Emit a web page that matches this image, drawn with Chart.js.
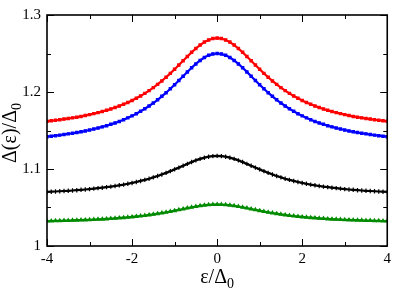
<!DOCTYPE html>
<html>
<head>
<meta charset="utf-8">
<script src="https://cdn.jsdelivr.net/npm/chart.js@4/dist/chart.umd.min.js"></script>
<style>
html,body{margin:0;padding:0;background:#fff;}
#wrap{width:395px;height:289px;position:relative;}
</style>
</head>
<body>
<div id="wrap"><canvas id="c" width="395" height="289"></canvas></div>
<script>
const eps = [-4,-3.9,-3.8,-3.7,-3.6,-3.5,-3.4,-3.3,-3.2,-3.1,-3,-2.9,-2.8,-2.7,-2.6,-2.5,-2.4,-2.3,-2.2,-2.1,-2,-1.9,-1.8,-1.7,-1.6,-1.5,-1.4,-1.3,-1.2,-1.1,-1,-0.9,-0.8,-0.7,-0.6,-0.5,-0.4,-0.3,-0.2,-0.1,0,0.1,0.2,0.3,0.4,0.5,0.6,0.7,0.8,0.9,1,1.1,1.2,1.3,1.4,1.5,1.6,1.7,1.8,1.9,2,2.1,2.2,2.3,2.4,2.5,2.6,2.7,2.8,2.9,3,3.1,3.2,3.3,3.4,3.5,3.6,3.7,3.8,3.9,4];

const redSeries = [1.1620,1.1626,1.1633,1.1640,1.1648,1.1656,1.1664,1.1673,1.1683,1.1694,1.1706,1.1719,1.1732,1.1747,1.1762,1.1780,1.1798,1.1818,1.1840,1.1864,1.1890,1.1918,1.1949,1.1982,1.2018,1.2057,1.2099,1.2144,1.2191,1.2242,1.2295,1.2350,1.2405,1.2461,1.2515,1.2565,1.2610,1.2648,1.2676,1.2694,
1.2700,
1.2694,1.2676,1.2648,1.2610,1.2565,1.2515,1.2461,1.2405,1.2350,1.2295,1.2242,1.2191,1.2144,1.2099,1.2057,1.2018,1.1982,1.1949,1.1918,1.1890,1.1864,1.1840,1.1818,1.1798,1.1780,1.1762,1.1747,1.1732,1.1719,1.1706,1.1694,1.1683,1.1673,1.1664,1.1656,1.1648,1.1640,1.1633,1.1626,1.1620];

const blueSeries = [1.1420,1.1426,1.1433,1.1440,1.1448,1.1456,1.1464,1.1473,1.1483,1.1494,1.1506,1.1519,1.1532,1.1547,1.1562,1.1580,1.1598,1.1618,1.1640,1.1664,1.1690,1.1718,1.1749,1.1782,1.1818,1.1857,1.1899,1.1944,1.1991,1.2042,1.2095,1.2150,1.2205,1.2261,1.2315,1.2365,1.2410,1.2448,1.2476,1.2494,
1.2500,
1.2494,1.2476,1.2448,1.2410,1.2365,1.2315,1.2261,1.2205,1.2150,1.2095,1.2042,1.1991,1.1944,1.1899,1.1857,1.1818,1.1782,1.1749,1.1718,1.1690,1.1664,1.1640,1.1618,1.1598,1.1580,1.1562,1.1547,1.1532,1.1519,1.1506,1.1494,1.1483,1.1473,1.1464,1.1456,1.1448,1.1440,1.1433,1.1426,1.1420];

const blackSeries = [1.0702,1.0705,1.0708,1.0711,1.0714,1.0717,1.0721,1.0725,1.0730,1.0734,1.0739,1.0745,1.0751,1.0757,1.0764,1.0771,1.0779,1.0788,1.0797,1.0808,1.0819,1.0831,1.0845,1.0859,1.0874,1.0891,1.0909,1.0929,1.0950,1.0972,1.0995,1.1018,1.1042,1.1066,1.1090,1.1112,1.1131,1.1147,1.1160,1.1167,
1.1170,
1.1167,1.1160,1.1147,1.1131,1.1112,1.1090,1.1066,1.1042,1.1018,1.0995,1.0972,1.0950,1.0929,1.0909,1.0891,1.0874,1.0859,1.0845,1.0831,1.0819,1.0808,1.0797,1.0788,1.0779,1.0771,1.0764,1.0757,1.0751,1.0745,1.0739,1.0734,1.0730,1.0725,1.0721,1.0717,1.0714,1.0711,1.0708,1.0705,1.0702];

const greenSeries = [1.0324,1.0325,1.0327,1.0328,1.0330,1.0331,1.0333,1.0335,1.0337,1.0339,1.0341,1.0344,1.0346,1.0349,1.0352,1.0356,1.0360,1.0364,1.0368,1.0373,1.0378,1.0384,1.0390,1.0396,1.0404,1.0411,1.0420,1.0429,1.0438,1.0448,1.0459,1.0470,1.0481,1.0492,1.0503,1.0513,1.0522,1.0530,1.0535,1.0539,
1.0540,
1.0539,1.0535,1.0530,1.0522,1.0513,1.0503,1.0492,1.0481,1.0470,1.0459,1.0448,1.0438,1.0429,1.0420,1.0411,1.0404,1.0396,1.0390,1.0384,1.0378,1.0373,1.0368,1.0364,1.0360,1.0356,1.0352,1.0349,1.0346,1.0344,1.0341,1.0339,1.0337,1.0335,1.0333,1.0331,1.0330,1.0328,1.0327,1.0325,1.0324];

const xMajorTicks = [-4,-2,0,2,4];
const xMinorTicks = [-3,-1,1,3];
const yMajorTicks = [1,1.1,1.2,1.3];
const yMinorTicks = [1.05,1.15,1.25];
const xTitleMain = 'ε/Δ';
const yTitleMain = 'Δ(ε)/Δ';
const titleSub = '0';

const SERIF = '"Liberation Serif", "Times New Roman", serif';

function pts(arr){ return eps.map((x,i)=>({x:x, y:arr[i]})); }
function ds(label, arr, color, style, r){
  return {label, data: pts(arr), borderColor: color, backgroundColor: color,
    borderWidth: 2.2, pointRadius: r, pointStyle: style, pointBorderWidth: 1.2,
    pointBackgroundColor: color, pointBorderColor: color, tension: 0, fill:false};
}

const framePlugin = {
  id: 'frameTicks',
  afterDatasetsDraw(chart){
    const ctx = chart.ctx, a = chart.chartArea;
    const xs = chart.scales.x, ys = chart.scales.y;
    ctx.save();
    ctx.strokeStyle = '#000';
    ctx.lineWidth = 1;
    const tick = (x1,y1,x2,y2)=>{ctx.beginPath();ctx.moveTo(x1,y1);ctx.lineTo(x2,y2);ctx.stroke();};
    xMajorTicks.forEach(v=>{const p=Math.round(xs.getPixelForValue(v))+0.5; tick(p,a.bottom,p,a.bottom-7); tick(p,a.top,p,a.top+7);});
    xMinorTicks.forEach(v=>{const p=Math.round(xs.getPixelForValue(v))+0.5; tick(p,a.bottom,p,a.bottom-4); tick(p,a.top,p,a.top+4);});
    yMajorTicks.forEach(v=>{const p=Math.round(ys.getPixelForValue(v))+0.5; tick(a.left,p,a.left+7,p); tick(a.right,p,a.right-7,p);});
    yMinorTicks.forEach(v=>{const p=Math.round(ys.getPixelForValue(v))+0.5; tick(a.left,p,a.left+4,p); tick(a.right,p,a.right-4,p);});
    ctx.lineWidth = 1.6;
    ctx.strokeRect(a.left, a.top, a.right-a.left, a.bottom-a.top);
    ctx.restore();
  },
  afterDraw(chart){
    const ctx = chart.ctx, a = chart.chartArea;
    ctx.save();
    ctx.fillStyle = '#000';
    ctx.textBaseline = 'alphabetic';
    ctx.textAlign = 'left';
    const mainFont = '20px ' + SERIF, subFont = '14px ' + SERIF;
    ctx.font = mainFont; const w1 = ctx.measureText(xTitleMain).width;
    ctx.font = subFont; const w2 = ctx.measureText(titleSub).width;
    const cx = (a.left + a.right)/2;
    let x0 = cx - (w1+w2)/2;
    ctx.font = mainFont; ctx.fillText(xTitleMain, x0, 283);
    ctx.font = subFont; ctx.fillText(titleSub, x0 + w1, 288);
    ctx.font = mainFont; const v1 = ctx.measureText(yTitleMain).width;
    ctx.font = subFont; const v2 = ctx.measureText(titleSub).width;
    ctx.translate(16, 133);
    ctx.rotate(-Math.PI/2);
    const y0 = -(v1+v2)/2;
    ctx.font = mainFont; ctx.fillText(yTitleMain, y0, 0);
    ctx.font = subFont; ctx.fillText(titleSub, y0 + v1, 5);
    ctx.restore();
  }
};

new Chart(document.getElementById('c'), {
  type: 'line',
  data: { datasets: [
    ds('red', redSeries, '#ff0000', 'rect', 1.6),
    ds('blue', blueSeries, '#0000ff', 'rect', 1.6),
    ds('black', blackSeries, '#000000', 'cross', 2.2),
    ds('green', greenSeries, '#008b00', 'triangle', 1.8)
  ]},
  options: {
    responsive: false,
    animation: false,
    devicePixelRatio: 1,
    layout: { padding: { top: 6, right: 6, left: 0, bottom: 0 } },
    plugins: { legend: { display: false }, tooltip: { enabled: false } },
    scales: {
      x: {
        type: 'linear', min: -4, max: 4,
        grid: { display: false, drawTicks: false },
        border: { display: false },
        afterFit(s){ s.height = 43; },
        afterBuildTicks(s){ s.ticks = xMajorTicks.map(v=>({value:v})); },
        ticks: { color: '#000', font: { family: SERIF, size: 15 }, padding: 4, maxRotation: 0,
          callback: v => String(v) }
      },
      y: {
        type: 'linear', min: 1, max: 1.3,
        grid: { display: false, drawTicks: false },
        border: { display: false },
        afterFit(s){ s.width = 47; },
        afterBuildTicks(s){ s.ticks = yMajorTicks.map(v=>({value:v})); },
        ticks: { color: '#000', font: { family: SERIF, size: 15 }, padding: 6,
          callback: v => (Math.abs(v-1) < 1e-9 ? '1' : v.toFixed(1)) }
      }
    }
  },
  plugins: [framePlugin]
});
</script>
</body>
</html>
